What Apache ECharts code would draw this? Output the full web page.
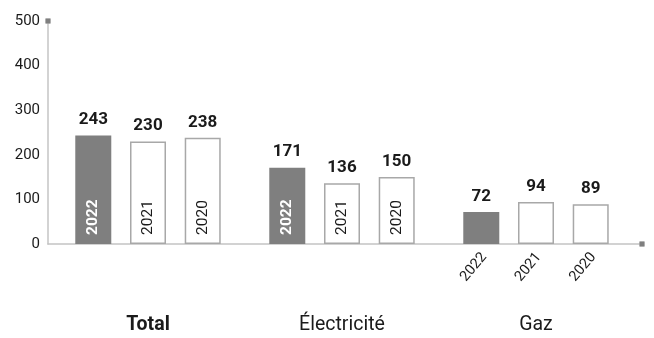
<!DOCTYPE html>
<html>
<head>
<meta charset="utf-8">
<script src="https://cdn.jsdelivr.net/npm/echarts@6/dist/echarts.min.js"></script>
<style>
  html, body { margin: 0; padding: 0; background: #fff; }
  #chart { width: 654px; height: 338px; }
</style>
</head>
<body>
<div id="chart"></div>
<script>
// Consumption by energy type, three years side by side
const categories = ['Total', 'Électricité', 'Gaz'];
const years = ['2022', '2021', '2020'];
const values2022 = [243, 171, 72];
const values2021 = [230, 136, 94];
const values2020 = [238, 150, 89];
const yTicks = [0, 100, 200, 300, 400, 500];

// Groups whose bars are too short to hold the year label inside
const outsideLabelCats = ['Gaz'];

const FONT = 'Roboto, "Noto Sans", sans-serif';
const TEXT = '#1a1a1a';
const AXIS = '#c4c4c4';
const AXIS_END = '#7f7f7f';

const seriesStyle = {
  '2022': { fill: '#7f7f7f', border: '#7f7f7f', inside: '#ffffff', weight: 'bold' },
  '2021': { fill: '#ffffff', border: '#a8a8a8', inside: TEXT, weight: 'normal' },
  '2020': { fill: '#ffffff', border: '#a8a8a8', inside: TEXT, weight: 'normal' }
};

function buildSeries(year, vals) {
  const st = seriesStyle[year];
  return {
    name: year,
    type: 'bar',
    xAxisIndex: 0,
    yAxisIndex: 0,
    barWidth: 36,
    barGap: '52%',
    itemStyle: { color: st.fill, borderColor: st.border, borderWidth: year === '2022' ? 0 : 1.5 },
    label: {
      show: true,
      formatter: year,
      position: 'insideBottom',
      distance: 9,
      rotate: 90,
      align: 'left',
      verticalAlign: 'middle',
      color: st.inside,
      fontFamily: FONT,
      fontSize: 15.5,
      fontWeight: st.weight
    },
    data: vals.map((v, i) => {
      if (outsideLabelCats.indexOf(categories[i]) === -1) return v;
      return {
        value: v,
        label: {
          position: 'bottom',
          distance: 11,
          offset: [2, 2],
          rotate: 50,
          align: 'right',
          verticalAlign: 'middle',
          color: TEXT,
          fontSize: 14.5,
          fontWeight: 'normal'
        }
      };
    }),
    // value printed above each bar
    markPoint: {
      symbol: 'rect',
      symbolSize: 0,
      itemStyle: { color: 'transparent' },
      label: {
        show: true,
        position: 'top',
        distance: 7,
        formatter: '{c}',
        color: TEXT,
        fontFamily: FONT,
        fontSize: 17,
        fontWeight: 'bold'
      },
      data: vals.map((v, i) => ({ coord: [i, v], value: v }))
    }
  };
}

// Bare axis used only to draw a line (or only its end marker) around the plot
function frameAxis(gridIndex, extra, color, width) {
  return Object.assign({
    type: 'value',
    gridIndex: gridIndex,
    min: 0,
    max: 1,
    axisLine: {
      show: true,
      onZero: false,
      symbol: ['none', 'rect'],
      symbolSize: [5, 5],
      lineStyle: { color: color, width: width }
    },
    axisTick: { show: false },
    axisLabel: { show: false },
    splitLine: { show: false }
  }, extra);
}

const chart = echarts.init(document.getElementById('chart'), null, { renderer: 'canvas' });
chart.setOption({
  animation: false,
  backgroundColor: '#ffffff',
  textStyle: { fontFamily: FONT },
  grid: [
    { left: 51, right: 21, top: 21, bottom: 94 },
    { left: 48, right: 12, top: 21, bottom: 94 }
  ],
  xAxis: [
    {
      type: 'category',
      gridIndex: 0,
      data: categories,
      axisLine: { show: false },
      axisTick: { show: false },
      axisLabel: {
        margin: 71,
        color: TEXT,
        fontFamily: FONT,
        fontSize: 19.5,
        formatter: v => (v === 'Total' ? '{b|' + v + '}' : v),
        rich: { b: { fontWeight: 'bold', fontSize: 19.5, fontFamily: FONT, color: TEXT } }
      }
    },
    frameAxis(1, { position: 'bottom' }, AXIS, 1.5),
    frameAxis(1, { position: 'bottom' }, AXIS_END, 0)
  ],
  yAxis: [
    {
      type: 'value',
      gridIndex: 0,
      min: 0,
      max: 500,
      interval: 100,
      show: false
    },
    {
      type: 'value',
      gridIndex: 1,
      position: 'left',
      min: yTicks[0],
      max: yTicks[yTicks.length - 1],
      interval: yTicks[1] - yTicks[0],
      axisLine: {
        show: true,
        symbol: ['none', 'rect'],
        symbolSize: [5, 5],
        lineStyle: { color: AXIS, width: 1.5 }
      },
      axisTick: { show: false },
      splitLine: { show: false },
      axisLabel: {
        margin: 8,
        color: TEXT,
        fontFamily: FONT,
        fontSize: 15,
        padding: [0, 0, 8, 0]
      }
    },
    frameAxis(1, { position: 'left', offset: 0 }, AXIS_END, 0)
  ],
  series: [
    buildSeries('2022', values2022),
    buildSeries('2021', values2021),
    buildSeries('2020', values2020)
  ]
});
</script>
</body>
</html>
